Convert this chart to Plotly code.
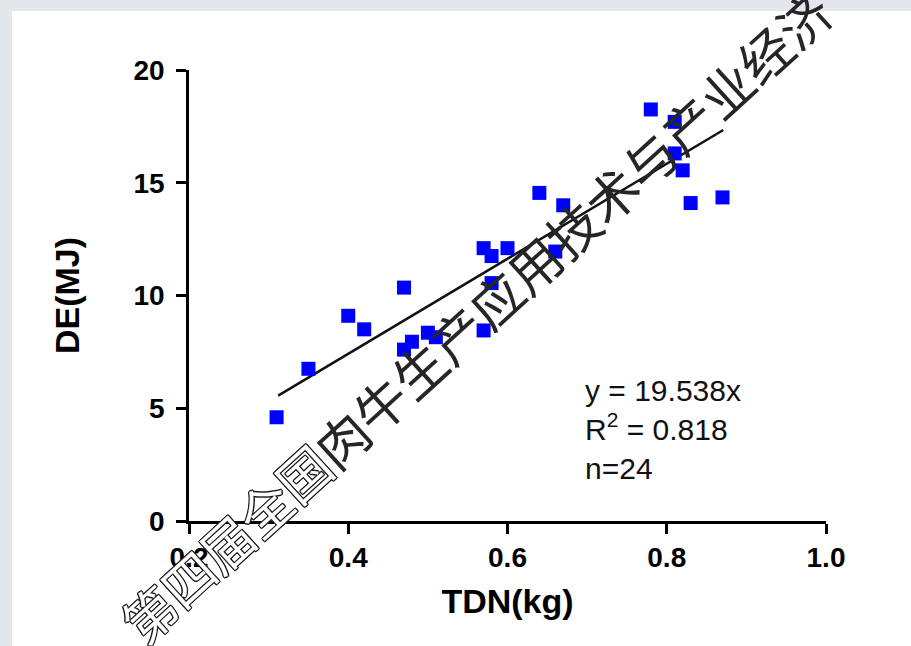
import math
import plotly.graph_objects as go

# Data
tdn = [0.31, 0.35, 0.40, 0.42, 0.47, 0.47, 0.48, 0.50, 0.51, 0.57, 0.57, 0.58,
       0.58, 0.60, 0.66, 0.64, 0.67, 0.78, 0.81, 0.81, 0.82, 0.83, 0.87]
de = [4.6, 6.75, 9.1, 8.5, 10.35, 7.6, 7.95, 8.35, 8.15, 8.45, 12.1, 10.55,
      11.75, 12.1, 11.95, 14.55, 14.0, 18.25, 17.7, 16.3, 15.55, 14.1, 14.35]
fit_x = [0.312, 0.871]
fit_y = [5.56, 17.34]
x_ticks = [0.2, 0.4, 0.6, 0.8, 1.0]
x_ticklabels = ["0.2", "0.4", "0.6", "0.8", "1.0"]
y_ticks = [0, 5, 10, 15, 20]
y_ticklabels = ["0", "5", "10", "15", "20"]
stats_text = "y = 19.538x<br>R<sup>2</sup> = 0.818<br>n=24"
watermark_parts = ["第四届全国", "肉牛生产应用技术与产业经济"]

fig = go.Figure()
fig.add_trace(go.Scatter(x=fit_x, y=fit_y, mode="lines",
                         line=dict(color="#111111", width=2.5),
                         hoverinfo="skip", showlegend=False))
fig.add_trace(go.Scatter(x=tdn, y=de, mode="markers",
                         marker=dict(symbol="square", size=14, color="#0000ff"),
                         showlegend=False))

L, R, T, B = 189, 85, 70, 124.5
W, H = 911, 646
pw, ph = W - L - R, H - T - B

def px2paper(px, py):
    return (px - L) / pw, (H - B - py) / ph

# gray frame background with white panel
x0, y1 = px2paper(12, 11)
x1, y0 = px2paper(W + 5, H + 5)
fig.add_shape(type="rect", xref="paper", yref="paper", x0=x0, x1=x1, y0=y0, y1=y1,
              fillcolor="white", line=dict(width=0), layer="below")

ax_font = dict(family="Liberation Sans, Arial, sans-serif", size=28, color="black", weight="bold")
title_font = dict(family="Liberation Sans, Arial, sans-serif", size=34, color="black", weight="bold")

fig.update_xaxes(range=[0.2, 1.0], tickvals=x_ticks, ticktext=x_ticklabels,
                 showline=True, linecolor="black", linewidth=2.5, ticks="outside",
                 ticklen=10, tickwidth=2.5, tickcolor="black", showgrid=False,
                 zeroline=False, tickfont=ax_font,
                 title=dict(text="TDN(kg)", font=title_font, standoff=17))
fig.update_yaxes(range=[0, 20], tickvals=y_ticks, ticktext=y_ticklabels,
                 showline=True, linecolor="black", linewidth=2.5, ticks="outside",
                 ticklen=10, tickwidth=2.5, tickcolor="black", showgrid=False,
                 zeroline=False, tickfont=ax_font, ticklabelstandoff=6,
                 title=dict(text="DE(MJ)", font=title_font, standoff=44))

sx, sy = px2paper(583, 430)
fig.add_annotation(xref="paper", yref="paper", x=sx, y=sy, xanchor="left", yanchor="middle",
                   text=stats_text, showarrow=False, align="left",
                   font=dict(family="Liberation Sans, Arial, sans-serif", size=30, color="#111111"))

# watermark: diagonal text, first part hollow-outlined, rest solid
wm_size = 52
angle = 42.3
cx, cy = 476, 316
total = sum(len(p) for p in watermark_parts)
ux, uy = math.cos(math.radians(angle)), -math.sin(math.radians(angle))
outline = ", ".join(f"{dx}px {dy}px 0 #1a1a1a" for dx, dy in
                    [(1, 1), (-1, -1), (1, -1), (-1, 1), (0, 1), (0, -1), (1, 0), (-1, 0)])
start = 0
for i, part in enumerate(watermark_parts):
    mid = start + len(part) / 2 - total / 2
    px = cx + ux * mid * wm_size
    py = cy + uy * mid * wm_size
    ax_, ay_ = px2paper(px, py)
    if i == 0:
        f = dict(family="Noto Sans CJK SC, sans-serif", size=wm_size, color="white", shadow=outline)
    else:
        f = dict(family="Noto Sans CJK SC, sans-serif", size=wm_size, color="#262626")
    fig.add_annotation(xref="paper", yref="paper", x=ax_, y=ay_, xanchor="center", yanchor="middle",
                       text=part, showarrow=False, textangle=-angle, font=f)
    start += len(part)

fig.update_layout(width=W, height=H, margin=dict(l=L, r=R, t=T, b=B, autoexpand=False),
                  paper_bgcolor="#e3e7eb", plot_bgcolor="rgba(0,0,0,0)")

fig.write_html("out.html", config={"displayModeBar": False},
               post_script="document.body.style.margin='0';document.body.style.overflow='hidden';")
